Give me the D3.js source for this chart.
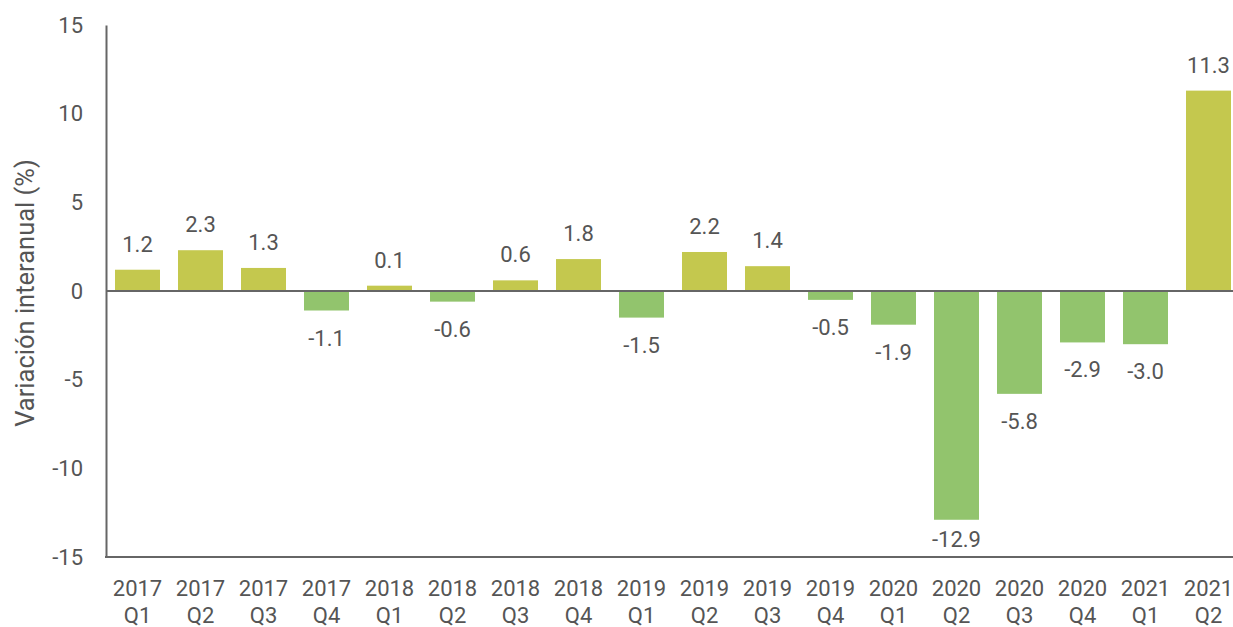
<!DOCTYPE html>
<html>
<head>
<meta charset="utf-8">
<script src="https://cdn.jsdelivr.net/npm/d3@7/dist/d3.min.js"></script>
<style>
  body { margin: 0; background: #fff; }
  text { font-family: Roboto, sans-serif; fill: #555; }
</style>
</head>
<body>
<svg id="chart" width="1233" height="627"></svg>
<script>
const years = ['2017', '2017', '2017', '2017', '2018', '2018', '2018', '2018',
  '2019', '2019', '2019', '2019', '2020', '2020', '2020', '2020', '2021', '2021'];
const quarters = ['Q1', 'Q2', 'Q3', 'Q4', 'Q1', 'Q2', 'Q3', 'Q4',
  'Q1', 'Q2', 'Q3', 'Q4', 'Q1', 'Q2', 'Q3', 'Q4', 'Q1', 'Q2'];
const values = [1.2, 2.3, 1.3, -1.1, 0.1, -0.6, 0.6, 1.8,
  -1.5, 2.2, 1.4, -0.5, -1.9, -12.9, -5.8, -2.9, -3.0, 11.3];
// the bar of 0.1 is drawn a bit taller in the picture
const barValues = [1.2, 2.3, 1.3, -1.1, 0.3, -0.6, 0.6, 1.8,
  -1.5, 2.2, 1.4, -0.5, -1.9, -12.9, -5.8, -2.9, -3.0, 11.3];
const yTicks = [-15, -10, -5, 0, 5, 10, 15];

const POS_COLOR = '#c4c84e';
const NEG_COLOR = '#92c46d';
const AXIS_COLOR = '#666';
const FONT_SIZE = '22px';

const svg = d3.select('#chart');
const cats = d3.range(values.length);

const x = d3.scaleBand()
  .domain(cats)
  .range([106, 1240])
  .paddingInner(0.286)
  .paddingOuter(0.143);

const y = d3.scaleLinear()
  .domain([-15, 15])
  .range([557, 25]);

// y axis
const yAxis = svg.append('g')
  .attr('transform', 'translate(106,0)')
  .call(d3.axisLeft(y).tickValues(yTicks).tickFormat(d => String(d)).tickSize(0).tickPadding(23));
yAxis.select('.domain').attr('stroke', AXIS_COLOR).attr('stroke-width', 2);
yAxis.selectAll('text')
  .style('font-size', FONT_SIZE)
  .style('font-family', 'Roboto, sans-serif')
  .attr('fill', '#555');

// bars
svg.append('g').selectAll('rect')
  .data(cats)
  .join('rect')
  .attr('x', i => x(i))
  .attr('width', x.bandwidth())
  .attr('y', i => y(Math.max(0, barValues[i])))
  .attr('height', i => Math.abs(y(barValues[i]) - y(0)))
  .attr('fill', i => values[i] >= 0 ? POS_COLOR : NEG_COLOR);

// zero line and bottom line
svg.append('line')
  .attr('x1', 106).attr('x2', 1240)
  .attr('y1', y(0)).attr('y2', y(0))
  .attr('stroke', AXIS_COLOR).attr('stroke-width', 2);
svg.append('line')
  .attr('x1', 105).attr('x2', 1240)
  .attr('y1', y(-15)).attr('y2', y(-15))
  .attr('stroke', AXIS_COLOR).attr('stroke-width', 2);

// value labels (negatives below the bar, kept above the bottom axis)
svg.append('g').selectAll('text')
  .data(cats)
  .join('text')
  .attr('x', i => x(i) + x.bandwidth() / 2)
  .attr('y', i => values[i] >= 0
    ? y(barValues[i]) - 18
    : Math.min(y(barValues[i]) + 35, y(-15) - 10))
  .attr('text-anchor', 'middle')
  .style('font-size', FONT_SIZE)
  .text(i => values[i].toFixed(1));

// x labels, two lines
const xl = svg.append('g').selectAll('text')
  .data(cats)
  .join('text')
  .attr('text-anchor', 'middle')
  .style('font-size', FONT_SIZE);
xl.append('tspan')
  .attr('x', i => x(i) + x.bandwidth() / 2)
  .attr('y', 596)
  .text(i => years[i]);
xl.append('tspan')
  .attr('x', i => x(i) + x.bandwidth() / 2)
  .attr('y', 623)
  .text(i => quarters[i]);

// y title
svg.append('text')
  .attr('transform', 'translate(34,293) rotate(-90)')
  .attr('text-anchor', 'middle')
  .style('font-size', '25.5px')
  .text('Variación interanual (%)');
</script>
</body>
</html>
